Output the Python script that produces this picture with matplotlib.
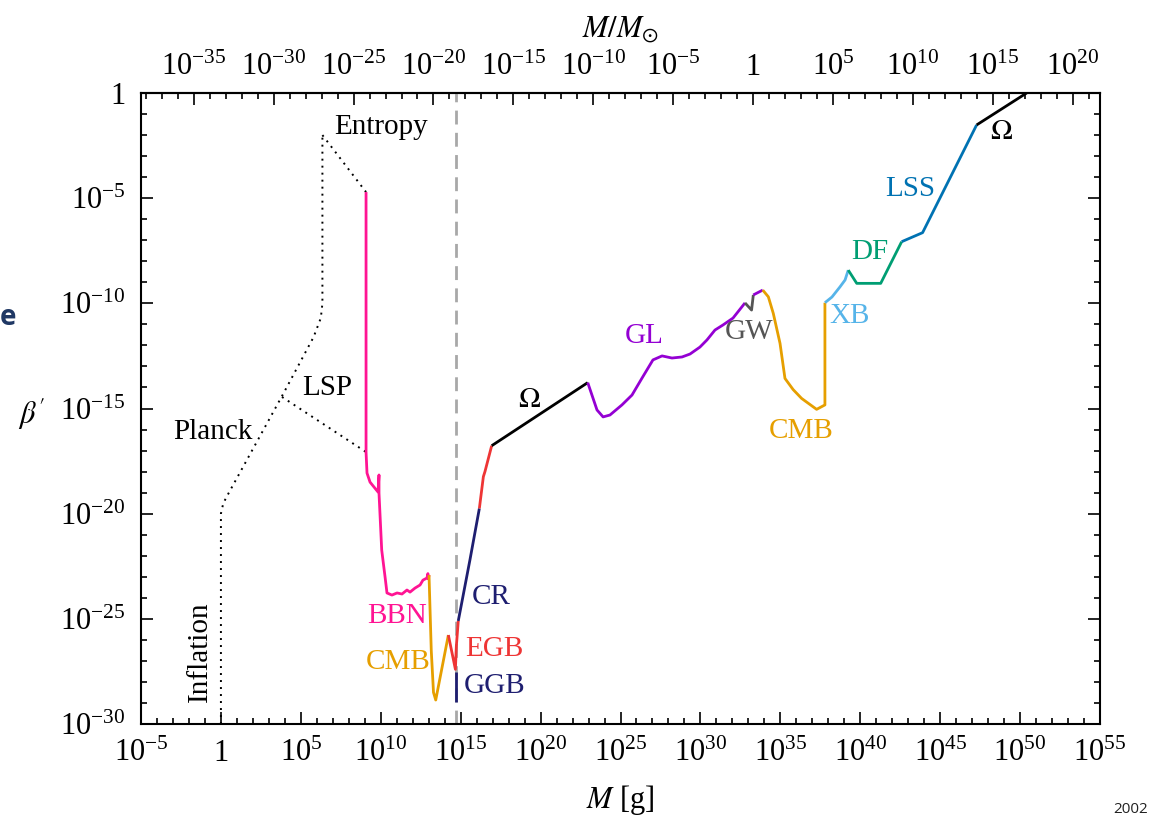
import numpy as np
import matplotlib
matplotlib.use('Agg')
import matplotlib.pyplot as plt
from matplotlib.ticker import FixedLocator, FuncFormatter, NullFormatter

plt.rcParams['font.family'] = 'serif'
plt.rcParams['font.serif'] = ['Liberation Serif', 'DejaVu Serif']
plt.rcParams['mathtext.fontset'] = 'stix'
plt.rcParams['font.size'] = 21

MSUN = 1.989e33  # g

# all curves as log10(M [g]) and log10(beta')
planck_m = [0.0, 0.0, 0.15, 0.5, 3.9, 5.8, 6.25, 6.35, 6.35]
planck_b = [-30.0, -20.0, -19.5, -19.0, -14.3, -11.6, -10.7, -10.0, -2.0]
entropy_m = [6.35, 9.08]
entropy_b = [-2.0, -4.71]
lsp_m = [3.82, 9.08]
lsp_b = [-14.45, -17.07]

bbn_m = [9.08, 9.08, 9.14, 9.33, 9.83, 9.89, 9.89, 10.06, 10.27, 10.39, 10.70, 11.02,
         11.33, 11.64, 11.83, 12.14, 12.46, 12.64, 12.89, 12.95, 12.98, 13.02]
bbn_b = [-4.71, -17.07, -18.07, -18.50, -18.97, -18.16, -19.02, -21.73, -23.01, -23.77, -23.87, -23.77,
         -23.82, -23.63, -23.73, -23.54, -23.39, -23.16, -23.06, -22.85, -23.10, -22.92]
cmb_lo_m = [13.02, 13.16, 13.30, 13.44, 14.23]
cmb_lo_b = [-22.92, -26.5, -28.5, -28.86, -25.77]
egb_lo_m = [14.23, 14.67, 14.73, 14.85]
egb_lo_b = [-25.77, -27.40, -26.30, -25.10]
ggb_m = [14.71, 14.71]
ggb_b = [-27.51, -28.94]
cr_m = [14.85, 15.58, 16.17]
cr_b = [-25.10, -22.20, -19.75]
egb_hi_m = [16.17, 16.42, 16.52, 16.94]
egb_hi_b = [-19.75, -18.24, -18.00, -16.77]
omega_lo_m = [16.94, 22.95]
omega_lo_b = [-16.77, -13.77]
gl_m = [22.95, 23.53, 23.91, 24.34, 25.09, 25.72, 26.35, 27.03, 27.60, 28.22, 28.85,
        29.35, 29.97, 30.41, 30.91, 31.41, 32.04, 32.79]
gl_b = [-13.77, -15.07, -15.40, -15.31, -14.83, -14.36, -13.55, -12.69, -12.50, -12.60, -12.55,
        -12.41, -12.08, -11.74, -11.27, -11.03, -10.70, -9.98]
gw_m = [32.79, 33.20, 33.31]
gw_b = [-9.98, -10.32, -9.60]
gl2_m = [33.31, 33.90]
gl2_b = [-9.60, -9.37]
cmb_hi_m = [33.90, 34.25, 34.56, 34.98, 35.29, 35.80, 36.33, 37.27, 37.79, 37.79]
cmb_hi_b = [-9.37, -9.69, -10.48, -11.90, -13.57, -14.10, -14.52, -15.04, -14.83, -9.97]
xb_m = [37.79, 38.23, 38.73, 39.05, 39.25]
xb_b = [-9.97, -9.70, -9.22, -8.89, -8.42]
df_m = [39.25, 39.78, 41.28, 42.59]
df_b = [-8.42, -9.05, -9.05, -7.07]
lss_m = [42.59, 43.90, 47.28]
lss_b = [-7.07, -6.64, -1.52]
omega_hi_m = [47.28, 50.41]
omega_hi_b = [-1.52, 0.0]

M_STAR = 14.71  # log10 of evaporation mass

c_pink = '#ff1493'
c_orange = '#e69f00'
c_red = '#ee3535'
c_navy = '#1e1e70'
c_purple = '#9400d3'
c_gray = '#555555'
c_sky = '#56b4e9'
c_green = '#009e73'
c_blue = '#0072b2'

fig = plt.figure(figsize=(11.5, 8.18), dpi=100)
ax = fig.add_axes([141 / 1150, 1 - 724 / 818, 959 / 1150, 631 / 818])

def P(m, b):
    return 10.0 ** np.array(m), 10.0 ** np.array(b)

dot = (0, (1, 2.6))
for m, b in [(planck_m, planck_b), (entropy_m, entropy_b), (lsp_m, lsp_b)]:
    ax.plot(*P(m, b), color='black', lw=1.4, ls=dot)

ax.axvline(10 ** M_STAR, color='#a8a8a8', lw=2, ls=(0, (5, 3)), zorder=1)

curves = [
    (bbn_m, bbn_b, c_pink), (cmb_lo_m, cmb_lo_b, c_orange), (egb_lo_m, egb_lo_b, c_red),
    (ggb_m, ggb_b, c_navy), (cr_m, cr_b, c_navy), (egb_hi_m, egb_hi_b, c_red),
    (omega_lo_m, omega_lo_b, 'black'), (gl_m, gl_b, c_purple), (gw_m, gw_b, c_gray),
    (gl2_m, gl2_b, c_purple), (cmb_hi_m, cmb_hi_b, c_orange), (xb_m, xb_b, c_sky),
    (df_m, df_b, c_green), (lss_m, lss_b, c_blue), (omega_hi_m, omega_hi_b, 'black'),
]
for m, b, c in curves:
    ax.plot(*P(m, b), color=c, lw=2.0, solid_joinstyle='round', solid_capstyle='butt')

labels = [
    ('Entropy', 10.02, -1.62, 'black', 0), ('LSP', 6.64, -14.03, 'black', 0),
    ('Planck', -0.50, -16.12, 'black', 0), ('Inflation', -1.31, -26.58, 'black', 90),
    ('BBN', 11.02, -24.87, c_pink, 0), ('CMB', 11.08, -27.05, c_orange, 0),
    ('CR', 16.90, -23.96, c_navy, 0), ('EGB', 17.09, -26.44, c_red, 0),
    ('GGB', 17.09, -28.20, c_navy, 0), (r'$\Omega$', 19.28, -14.60, 'black', 0),
    ('GL', 26.47, -11.55, c_purple, 0), ('GW', 33.04, -11.36, c_gray, 0),
    ('CMB', 36.29, -16.07, c_orange, 0), ('XB', 39.36, -10.60, c_sky, 0),
    ('DF', 40.61, -7.56, c_green, 0), ('LSS', 43.11, -4.56, c_blue, 0),
    (r'$\Omega$', 48.81, -1.85, 'black', 0),
]
for t, lm, lb, c, rot in labels:
    ax.text(10 ** lm, 10 ** lb, t, color=c, rotation=rot, ha='center', va='center')

ax.set_xscale('log')
ax.set_yscale('log')
ax.set_xlim(1e-5, 1e55)
ax.set_ylim(1e-30, 1)

def sci(v, pos=None):
    e = int(round(np.log10(v)))
    if e == 0:
        return r'$\mathdefault{1}$'
    return r'$\mathdefault{10^{%d}}$' % e

ax.xaxis.set_major_locator(FixedLocator(10.0 ** np.arange(-5, 56, 5)))
ax.xaxis.set_minor_locator(FixedLocator(10.0 ** np.arange(-5, 56, 1)))
ax.yaxis.set_major_locator(FixedLocator(10.0 ** np.arange(-30, 1, 5)))
ax.yaxis.set_minor_locator(FixedLocator(10.0 ** np.arange(-30, 1, 1)))
ax.xaxis.set_major_formatter(FuncFormatter(sci))
ax.yaxis.set_major_formatter(FuncFormatter(sci))
ax.xaxis.set_minor_formatter(NullFormatter())
ax.yaxis.set_minor_formatter(NullFormatter())

ax.tick_params(which='both', direction='in', top=False, right=True, width=1.2, labelsize=22)
ax.tick_params(which='major', length=8.5)
ax.tick_params(which='minor', length=4.3)
ax.tick_params(axis='x', pad=11)
ax.tick_params(axis='y', pad=11)
for s in ax.spines.values():
    s.set_linewidth(1.5)

sec = ax.secondary_xaxis('top', functions=(lambda m: m / MSUN, lambda r: r * MSUN))
sec.set_xscale('log')
sec.xaxis.set_major_locator(FixedLocator(10.0 ** np.arange(-35, 21, 5)))
sec.xaxis.set_minor_locator(FixedLocator(10.0 ** np.arange(-38, 23, 1)))
sec.xaxis.set_major_formatter(FuncFormatter(sci))
sec.xaxis.set_minor_formatter(NullFormatter())
sec.tick_params(which='both', direction='in', width=1.2, pad=8, labelsize=22)
sec.tick_params(which='major', length=8.5)
sec.tick_params(which='minor', length=4.3)
sec.spines['top'].set_linewidth(1.5)
sec.set_xlabel(r'$M/M_{\odot}$', fontsize=22, labelpad=12)

ax.set_xlabel(r'$M$ [g]', fontsize=22)
ax.xaxis.set_label_coords(0.5, -0.093)
ax.set_ylabel(r"$\beta'$", rotation=0, va='center', ha='center', fontsize=22)
ax.yaxis.set_label_coords(-0.114, 0.49)

# slide residue around the figure
fig.text(0.0, 1 - 318 / 818, 'e', ha='left', va='center', fontsize=20,
         family='Open Sans', weight='bold', color='#1f3864')
fig.text(1148 / 1150, 1 / 818, '2002', ha='right', va='bottom', fontsize=11,
         family='Open Sans', color='#222222')

fig.savefig('out.png', dpi=100)
